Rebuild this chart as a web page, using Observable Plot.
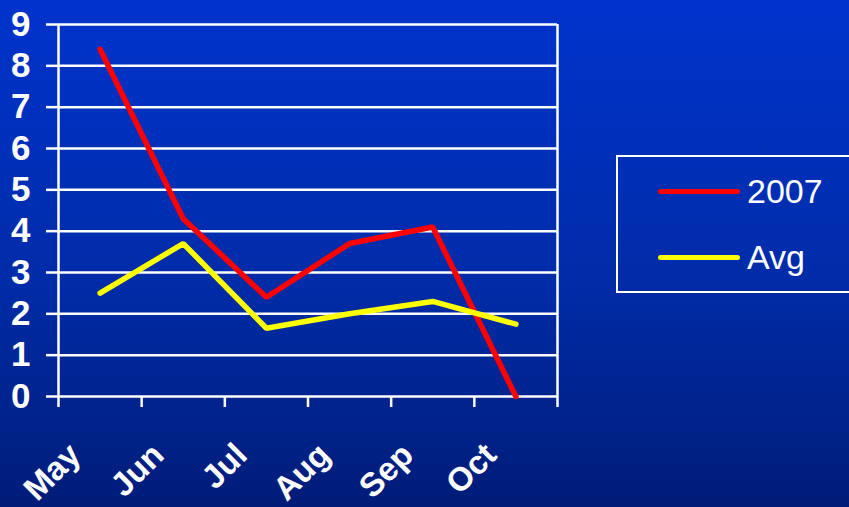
<!DOCTYPE html>
<html>
<head>
<meta charset="utf-8">
<script src="https://cdn.jsdelivr.net/npm/d3@7"></script>
<script src="https://cdn.jsdelivr.net/npm/@observablehq/plot@0.6"></script>
<style>
  html, body { margin: 0; padding: 0; }
  body {
    width: 849px; height: 507px; overflow: hidden; position: relative;
    background: linear-gradient(to bottom, #0033cc 0%, #002ca8 55%, #001c78 100%);
    font-family: "Liberation Sans", Arial, sans-serif;
  }
  #chart svg { background: transparent; display: block; }
  #legend {
    position: absolute; left: 616px; top: 155px; width: 240px; height: 134px;
    border: 2px solid #fff; box-sizing: content-box;
  }
  .item { position: absolute; left: 40px; height: 36px; display: flex; align-items: center; }
  .swatch { width: 82px; height: 5px; border-radius: 3px; margin-right: 7px; }
  .lbl { color: #fff; font-size: 34px; line-height: 36px; }
</style>
</head>
<body>
<div id="chart"></div>
<div id="legend">
  <div class="item" style="top:16px"><div class="swatch" style="background:#ff0000"></div><span class="lbl">2007</span></div>
  <div class="item" style="top:82px"><div class="swatch" style="background:#ffff00"></div><span class="lbl">Avg</span></div>
</div>
<script>
const months = ["May", "Jun", "Jul", "Aug", "Sep", "Oct"];
const series2007 = [8.4, 4.3, 2.4, 3.7, 4.1, 0];
const seriesAvg = [2.5, 3.7, 1.65, 2.0, 2.3, 1.75];
const yTicks = [0, 1, 2, 3, 4, 5, 6, 7, 8, 9];

const data = [];
months.forEach((m, i) => {
  data.push({pos: i + 0.5, month: m, value: series2007[i], series: "2007"});
  data.push({pos: i + 0.5, month: m, value: seriesAvg[i], series: "Avg"});
});
const boundaries = d3.range(months.length + 1);
const centers = months.map((m, i) => i + 0.5);

const chart = Plot.plot({
  width: 849,
  height: 507,
  marginLeft: 58,
  marginRight: 292,
  marginTop: 24,
  marginBottom: 111,
  style: {background: "transparent", color: "#fff", fontFamily: "Liberation Sans, Arial, sans-serif"},
  x: {domain: [0, months.length]},
  y: {domain: [0, 9]},
  color: {domain: ["2007", "Avg"], range: ["#ff0000", "#ffff00"]},
  marks: [
    Plot.ruleY(yTicks, {stroke: "#fff", strokeWidth: 2.5}),
    Plot.ruleX([0, months.length], {y1: 0, y2: 9, stroke: "#fff", strokeWidth: 2.5}),
    Plot.axisY({ticks: yTicks, tickSize: 12, tickPadding: 16, stroke: "#fff", strokeWidth: 2.5, strokeOpacity: 1,
      fontSize: 35, fontWeight: "bold", fill: "#fff", label: null}),
    Plot.axisX({ticks: boundaries, tickSize: 11, tickFormat: () => "", stroke: "#fff", strokeWidth: 2.5, strokeOpacity: 1, label: null}),
    Plot.axisX({ticks: centers, tickSize: 0, tickRotate: -45, tickPadding: 53, dx: -25,
      tickFormat: d => months[Math.round(d - 0.5)], fontSize: 33, fontWeight: "bold", fill: "#fff", label: null}),
    Plot.lineY(data, {x: "pos", y: "value", z: "series", stroke: "series", strokeWidth: 5.5,
      strokeLinecap: "round", strokeLinejoin: "miter"})
  ]
});
document.getElementById("chart").appendChild(chart);
</script>
</body>
</html>
